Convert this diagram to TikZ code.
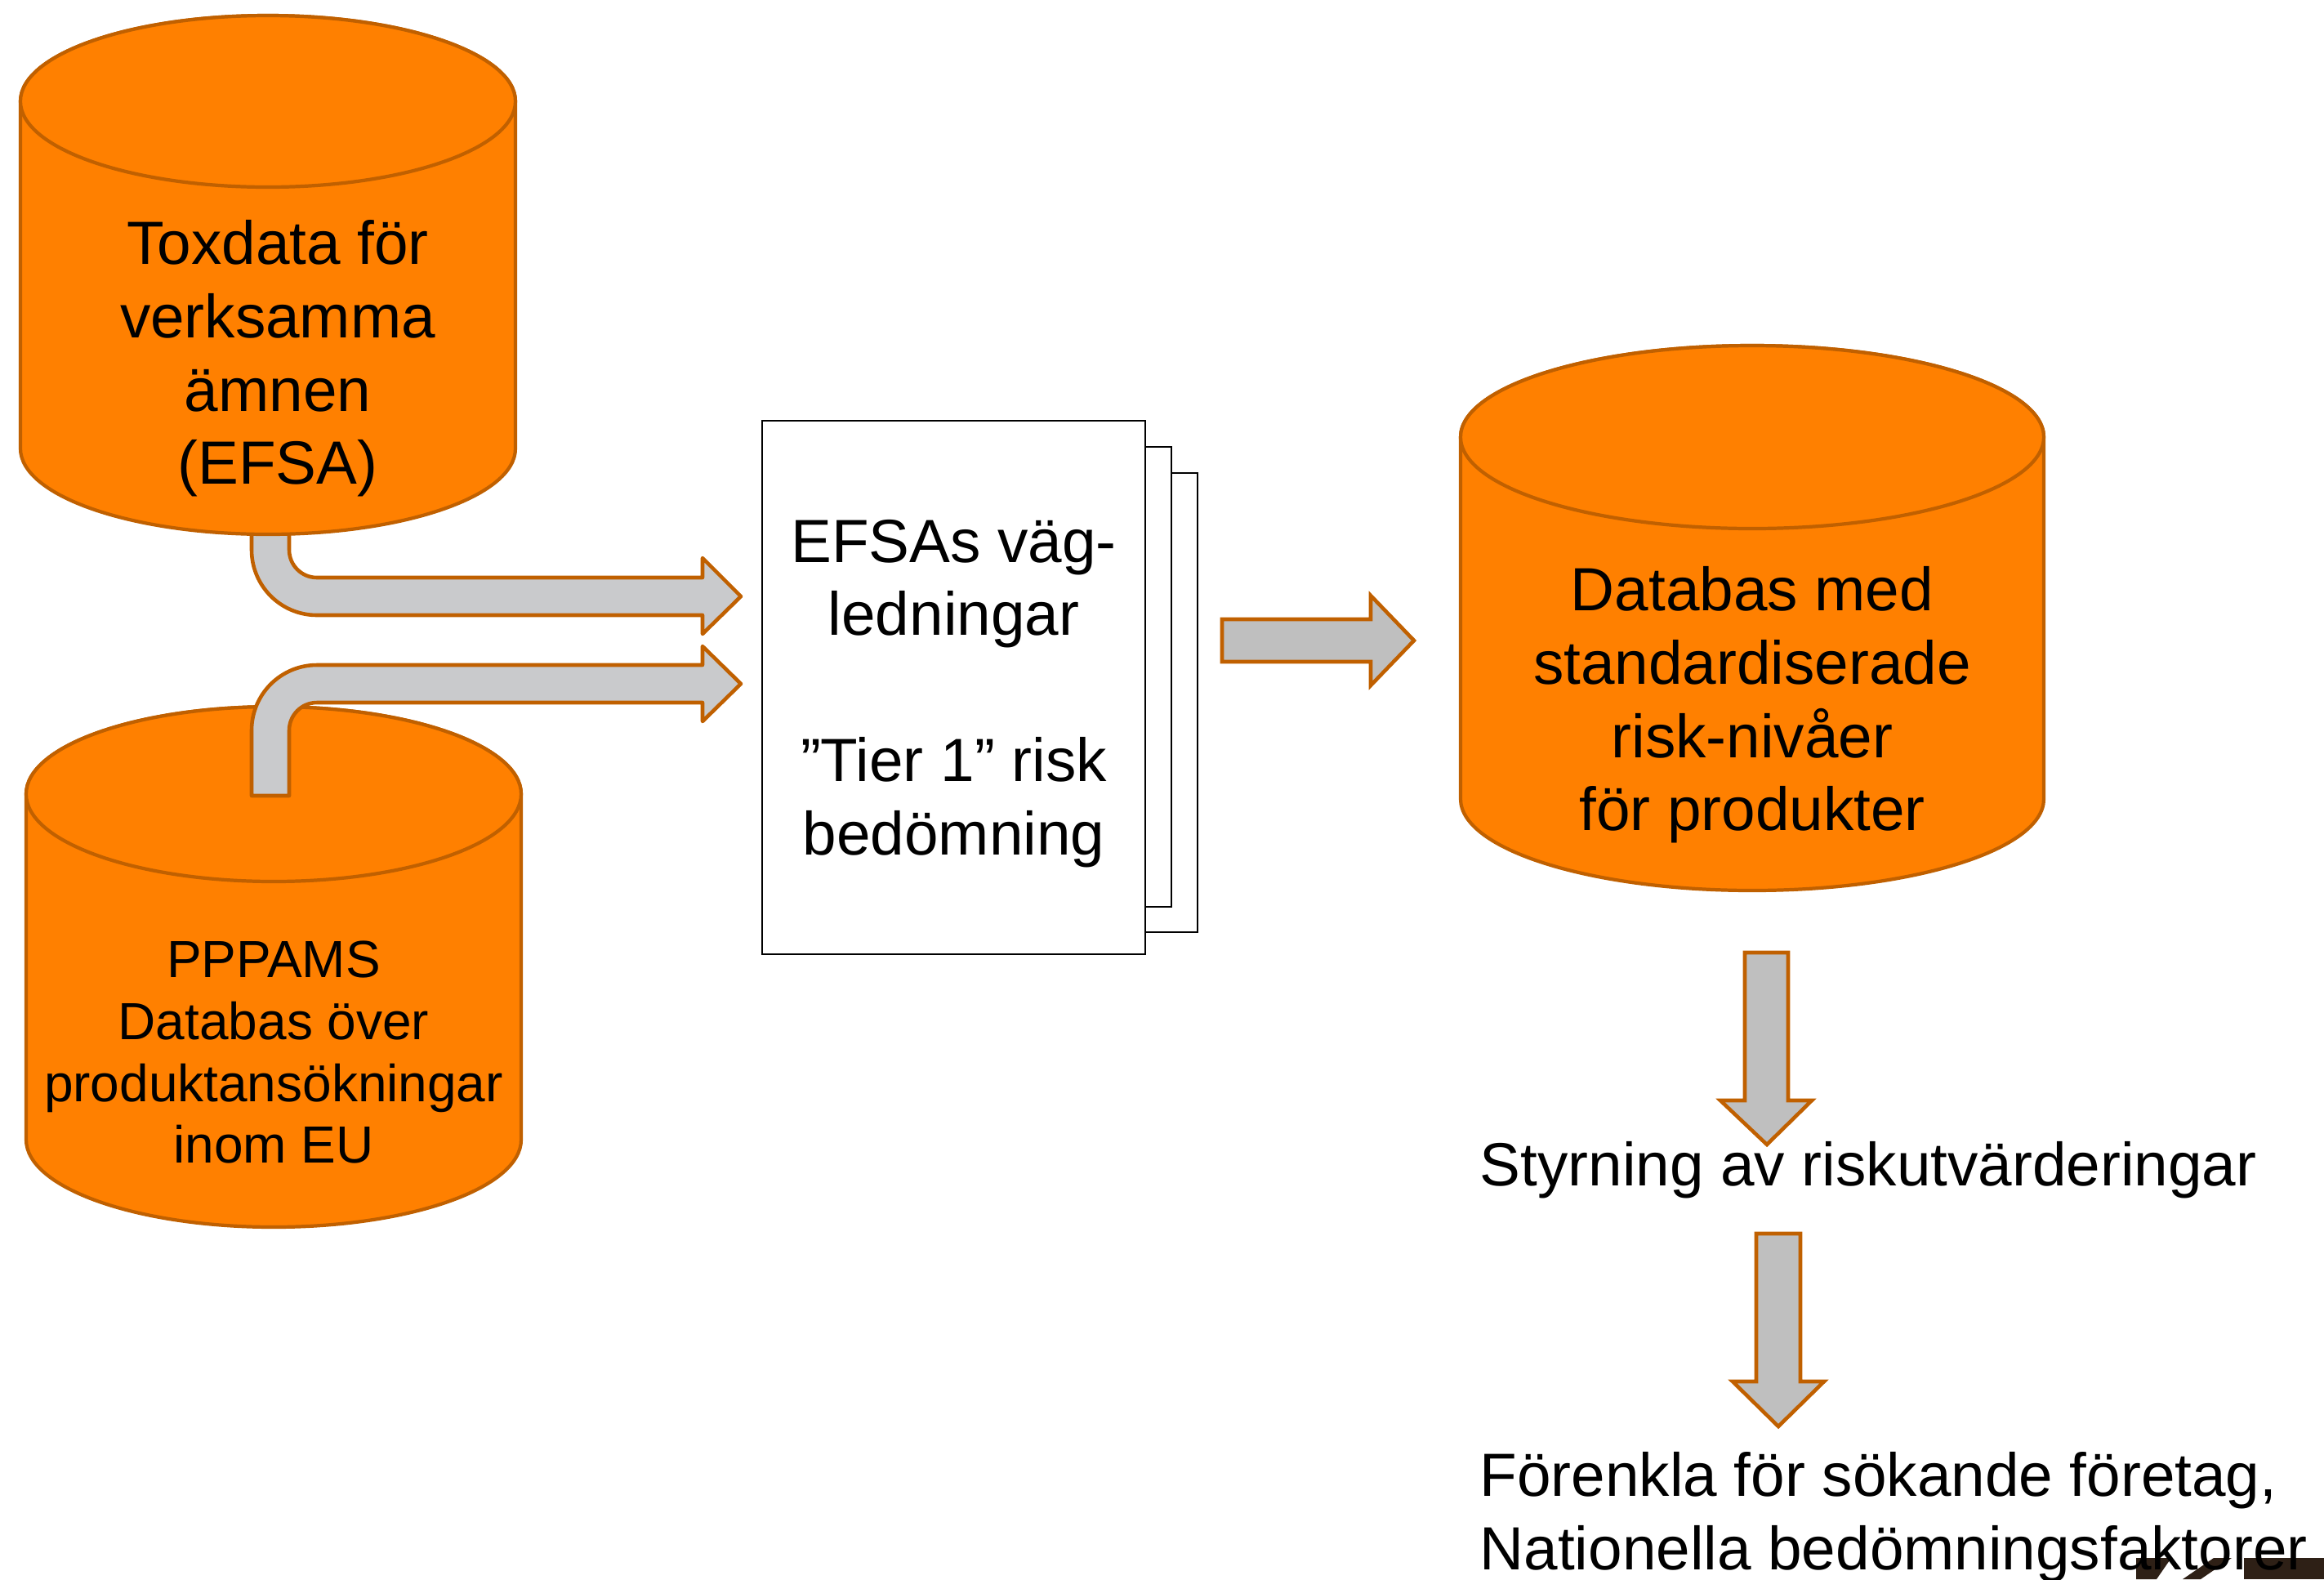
\documentclass[tikz,border=0pt]{standalone}
\usepackage{fontspec}
\setmainfont{Liberation Sans}
\definecolor{fillorange}{HTML}{FF8000}
\definecolor{rimorange}{HTML}{C06000}
\definecolor{bentgrey}{HTML}{C9CACC}
\definecolor{blockgrey}{HTML}{BFBFBF}
\definecolor{logobrown}{HTML}{2E2016}
\begin{document}
\begin{tikzpicture}[
  cyl/.style={fill=fillorange,draw=rimorange,line width=1.2pt},
  bent/.style={fill=bentgrey,draw=rimorange,line width=1.3pt,line join=round},
  blockarrow/.style={fill=blockgrey,draw=rimorange,line width=1.3pt,line join=miter},
  bigtxt/.style={align=center,inner sep=0pt,font=\fontsize{21.25}{25.5}\selectfont},
  smalltxt/.style={align=center,inner sep=0pt,font=\fontsize{18.2}{21.6}\selectfont},
  page/.style={draw=black,fill=white,line width=0.6pt}]
\useasboundingbox (0,0) rectangle (28.45,-19.33);
\draw[bent] (3.08,-6.20) -- (3.08,-6.73) arc[start angle=180,end angle=270,radius=0.80]
  -- (8.60,-7.53) -- (8.60,-7.76) -- (9.07,-7.30) -- (8.60,-6.83) -- (8.60,-7.07)
  -- (3.88,-7.07) arc[start angle=270,end angle=180,radius=0.34] -- (3.54,-6.20) -- cycle;
\draw[cyl] (0.25,-1.24) -- (0.25,-5.49) arc[start angle=180,end angle=360,x radius=3.03,y radius=1.05]
  -- (6.31,-1.24) arc[start angle=0,end angle=180,x radius=3.03,y radius=1.05] -- cycle;
\draw[cyl] (3.28,-1.24) ellipse[x radius=3.03,y radius=1.05];
\node[bigtxt] (toxdata) at (3.40,-4.39) {Toxdata för\\verksamma\\ämnen\\(EFSA)};
\draw[cyl] (0.32,-9.72) -- (0.32,-13.95) arc[start angle=180,end angle=360,x radius=3.03,y radius=1.07]
  -- (6.38,-9.72) arc[start angle=0,end angle=180,x radius=3.03,y radius=1.07] -- cycle;
\draw[cyl] (3.35,-9.72) ellipse[x radius=3.03,y radius=1.07];
\node[smalltxt] (pppams) at (3.35,-12.88) {PPPAMS\\Databas över\\produktansökningar\\inom EU};
\draw[bent] (3.08,-9.74) -- (3.08,-8.94) arc[start angle=180,end angle=90,radius=0.80]
  -- (8.60,-8.14) -- (8.60,-7.91) -- (9.07,-8.37) -- (8.60,-8.83) -- (8.60,-8.60)
  -- (3.88,-8.60) arc[start angle=90,end angle=180,radius=0.34] -- (3.54,-9.74) -- cycle;
\draw[page] (10.00,-5.79) rectangle (14.66,-11.41);
\draw[page] (9.80,-5.47) rectangle (14.34,-11.10);
\node[page,minimum width=4.69cm,minimum height=6.53cm] (guide) at (11.675,-8.415) {};
\node[bigtxt] (guidetext) at (11.675,-8.49)
  {EFSAs väg-\\ledningar\\ \\”Tier 1” risk\\bedömning};
\draw[blockarrow] (14.96,-7.58) -- (16.78,-7.58) -- (16.78,-7.29) -- (17.31,-7.84)
  -- (16.78,-8.39) -- (16.78,-8.10) -- (14.96,-8.10) -- cycle;
\draw[cyl] (17.88,-5.35) -- (17.88,-9.78) arc[start angle=180,end angle=360,x radius=3.57,y radius=1.12]
  -- (25.02,-5.35) arc[start angle=0,end angle=180,x radius=3.57,y radius=1.12] -- cycle;
\draw[cyl] (21.45,-5.35) ellipse[x radius=3.57,y radius=1.12];
\node[bigtxt] (databas) at (21.45,-8.63) {Databas med\\standardiserade\\risk-nivåer\\för produkter};
\draw[blockarrow] (21.36,-11.66) -- (21.36,-13.47) -- (21.06,-13.47) -- (21.63,-14.01)
  -- (22.18,-13.47) -- (21.89,-13.47) -- (21.89,-11.66) -- cycle;
\node[bigtxt,anchor=west] (styrning) at (18.11,-14.32) {Styrning av riskutvärderingar};
\draw[blockarrow] (21.50,-15.10) -- (21.50,-16.91) -- (21.21,-16.91) -- (21.77,-17.46)
  -- (22.33,-16.91) -- (22.04,-16.91) -- (22.04,-15.10) -- cycle;
\fill[logobrown] (26.15,-19.07) -- (26.58,-19.07) -- (26.40,-19.33) -- (26.15,-19.33) -- cycle;
\fill[logobrown] (26.72,-19.33) -- (27.10,-19.07) -- (27.32,-19.07) -- (26.94,-19.33) -- cycle;
\fill[logobrown] (27.47,-19.07) rectangle (28.45,-19.33);
\node[bigtxt,align=left,anchor=west] (forenkla) at (18.11,-18.57)
  {Förenkla för sökande företag,\\Nationella bedömningsfaktorer};
\end{tikzpicture}
\end{document}
